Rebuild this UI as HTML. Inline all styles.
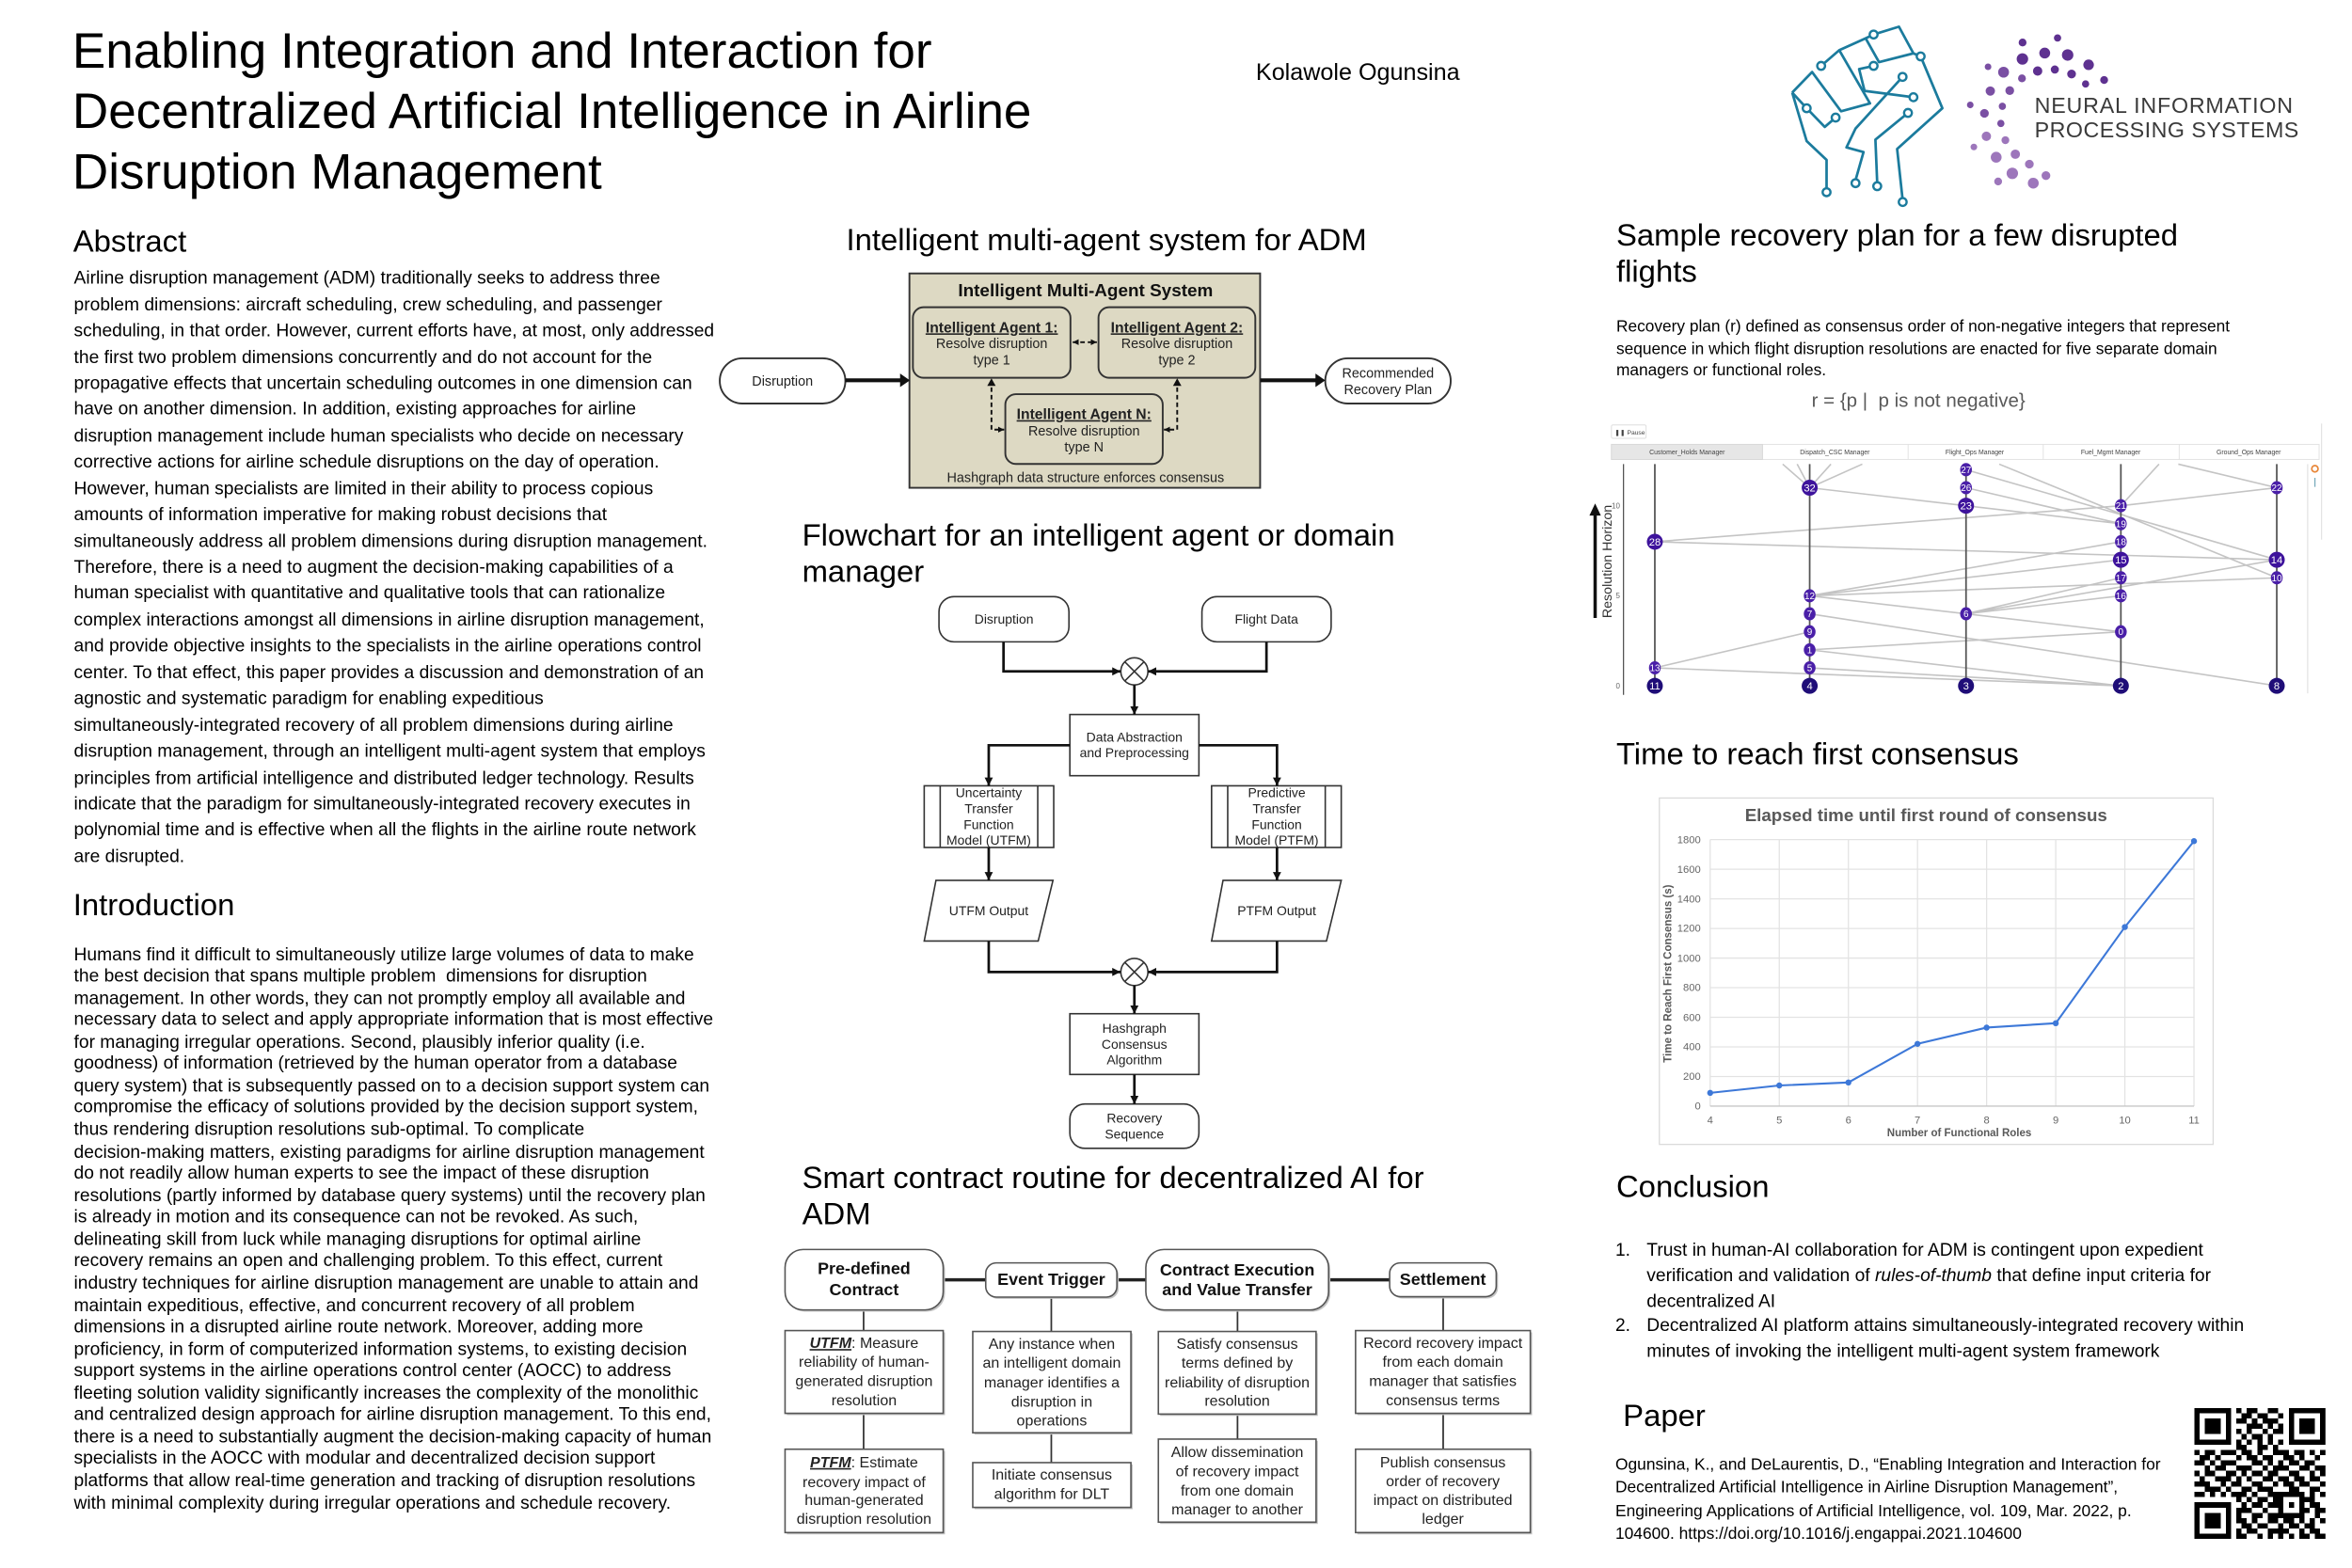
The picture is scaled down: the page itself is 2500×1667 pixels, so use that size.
<!DOCTYPE html>
<html><head><meta charset="utf-8">
<style>
html,body{margin:0;padding:0;background:#fff;}
body{width:2500px;height:1666px;overflow:hidden;position:relative;}
#p{position:absolute;left:0;top:0;width:1560px;height:1040px;transform:scale(1.602564);transform-origin:0 0;font-family:"Liberation Sans",Arial,sans-serif;color:#000;}
.t{position:absolute;white-space:nowrap;line-height:1;}
.h{font-size:20.5px;}
.bd{position:absolute;white-space:nowrap;font-size:12px;}
svg{position:absolute;left:0;top:0;font-family:"Liberation Sans",Arial,sans-serif;}
</style></head><body><div id="p">
<svg width="1560" height="1040" viewBox="0 0 1560 1040">
<defs>
<marker id="ah" viewBox="0 0 6 6" refX="6" refY="3" markerWidth="5.5" markerHeight="5.5" markerUnits="userSpaceOnUse" orient="auto"><path d="M0,0 L6,3 L0,6 z" fill="#111"/></marker>
<marker id="ahs" viewBox="0 0 6 6" refX="6" refY="3" markerWidth="4" markerHeight="4" markerUnits="userSpaceOnUse" orient="auto"><path d="M0,0 L6,3 L0,6 z" fill="#111"/></marker>
<marker id="ahsr" viewBox="0 0 6 6" refX="0" refY="3" markerWidth="4" markerHeight="4" markerUnits="userSpaceOnUse" orient="auto"><path d="M6,0 L0,3 L6,6 z" fill="#111"/></marker>
</defs>

<!-- Fist logo -->
<g fill="none" stroke="#1b7b9d" stroke-width="1.7" stroke-linejoin="round">
<polyline points="1207.9,43.7 1219.9,33.3 1237.4,25.4 1242.7,22.9"/>
<polyline points="1242.7,22.9 1259.5,17.7 1269.1,35.4 1246.3,41.2 1237.4,25.4"/>
<polyline points="1219.9,33.3 1240.3,68.6 1221.1,73.8 1201.9,47.8 1188.7,61.4"/>
<polyline points="1188.7,61.4 1198.3,71.8"/>
<polyline points="1198.3,71.8 1210.3,84.2 1217.5,78"/>
<polyline points="1242.7,43.7 1233.1,45.8 1236.7,60.3 1269.1,64.5"/>
<polyline points="1261.9,51 1230.7,85.3 1224.7,97.8 1236,100.9 1230.7,119.6"/>
<polyline points="1188.7,61.4 1198.3,93.6 1211.5,106.1 1211.5,125.8"/>
<polyline points="1265.5,74.9 1243.9,92.6 1245.1,121.7"/>
<polyline points="1269.1,35.4 1273.9,37.4 1288.3,71.8 1258.3,98.8 1261.9,132.1"/>
</g>
<g fill="#fff" stroke="#1b7b9d" stroke-width="1.5">
<circle cx="1207.9" cy="43.7" r="2.6"/><circle cx="1242.7" cy="22.9" r="2.6"/><circle cx="1273.9" cy="37.4" r="2.6"/>
<circle cx="1242.7" cy="43.7" r="2.6"/><circle cx="1261.9" cy="51" r="2.6"/><circle cx="1269.1" cy="64.5" r="2.6"/>
<circle cx="1265.5" cy="74.9" r="2.6"/><circle cx="1198.3" cy="71.8" r="2.6"/><circle cx="1217.5" cy="78" r="2.6"/>
<circle cx="1230.7" cy="121.5" r="2.6"/><circle cx="1211.5" cy="127.5" r="2.6"/><circle cx="1245.1" cy="123.5" r="2.6"/>
<circle cx="1262" cy="134" r="2.6"/>
</g>

<!-- NeurIPS dots -->
<g fill="#5e3190">
<circle cx="1395.6" cy="53.1" r="2.6"/><circle cx="1385.3" cy="43" r="3.5"/><circle cx="1371.4" cy="36.5" r="3.8"/>
<circle cx="1356.2" cy="35.2" r="3.6"/><circle cx="1341.4" cy="39.1" r="3.8"/><circle cx="1383.3" cy="55.7" r="2.4"/>
<circle cx="1374" cy="49.1" r="2.9"/><circle cx="1362.9" cy="46.1" r="2.7"/><circle cx="1351.5" cy="47.1" r="3.1"/>
<circle cx="1364.7" cy="25.2" r="2.4"/><circle cx="1341.5" cy="28.2" r="2.6"/>
</g>
<g fill="#7a4fa3">
<circle cx="1328.9" cy="47.9" r="3.6"/><circle cx="1320.1" cy="60.4" r="3.1"/><circle cx="1316.2" cy="75.2" r="2.9"/>
<circle cx="1341.1" cy="52" r="2.6"/><circle cx="1333" cy="60.1" r="2.9"/><circle cx="1328.1" cy="70.5" r="2.4"/>
<circle cx="1318.6" cy="44.3" r="2.2"/><circle cx="1306.8" cy="69.6" r="2.2"/><circle cx="1327.1" cy="81.9" r="2.4"/>
</g>
<g fill="#9d76bb">
<circle cx="1317.5" cy="90.4" r="3.1"/><circle cx="1324" cy="104.3" r="3.6"/><circle cx="1334.7" cy="115" r="3.8"/>
<circle cx="1348.6" cy="121.5" r="3.6"/><circle cx="1330.1" cy="93" r="2.6"/><circle cx="1336.7" cy="102.3" r="3.1"/>
<circle cx="1346" cy="108.9" r="2.9"/><circle cx="1309.2" cy="97.5" r="2.2"/><circle cx="1325.3" cy="120.4" r="2.6"/>
<circle cx="1357" cy="116.5" r="2.9"/>
</g>

<!-- ===== Diagram 1: Intelligent multi-agent system ===== -->
<rect x="603.2" y="181.4" width="232.6" height="142.2" fill="#ddd9c3" stroke="#333" stroke-width="1.2"/>
<text x="720" y="196.6" font-size="11.8" font-weight="bold" text-anchor="middle" fill="#111">Intelligent Multi-Agent System</text>
<g fill="#ddd9c3" stroke="#333" stroke-width="1.2">
<rect x="605.5" y="203.8" width="104.5" height="46.8" rx="7"/>
<rect x="728.6" y="203.8" width="104" height="46.8" rx="7"/>
<rect x="666.8" y="261.5" width="104.4" height="46.3" rx="7"/>
</g>
<g font-size="9" text-anchor="middle" fill="#222">
<text x="657.8" y="220.5" font-weight="bold" font-size="9.8" text-decoration="underline">Intelligent Agent 1:</text>
<text x="657.8" y="230.9">Resolve disruption</text>
<text x="657.8" y="241.7">type 1</text>
<text x="780.6" y="220.5" font-weight="bold" font-size="9.8" text-decoration="underline">Intelligent Agent 2:</text>
<text x="780.6" y="230.9">Resolve disruption</text>
<text x="780.6" y="241.7">type 2</text>
<text x="719" y="278.1" font-weight="bold" font-size="9.8" text-decoration="underline">Intelligent Agent N:</text>
<text x="719" y="288.9">Resolve disruption</text>
<text x="719" y="299.5">type N</text>
<text x="720" y="319.9">Hashgraph data structure enforces consensus</text>
</g>
<g stroke="#111" stroke-width="1.2" stroke-dasharray="3,2" fill="none">
<line x1="711.5" y1="227" x2="727.5" y2="227" marker-end="url(#ahs)" marker-start="url(#ahsr)"/>
<polyline points="657.6,252 657.6,285 666,285" marker-end="url(#ahs)"/>
<polyline points="780.8,252 780.8,285 772,285" marker-end="url(#ahs)"/>
</g>
<path d="M654.8,256 L657.6,251 L660.4,256 z" fill="#111"/>
<path d="M778,256 L780.8,251 L783.6,256 z" fill="#111"/>
<rect x="477.4" y="237.7" width="83.3" height="30" rx="15" fill="#fff" stroke="#333" stroke-width="1.2"/>
<rect x="879" y="237.7" width="83.2" height="30" rx="15" fill="#fff" stroke="#333" stroke-width="1.2"/>
<g font-size="9" text-anchor="middle" fill="#222">
<text x="519" y="255.8">Disruption</text>
<text x="920.6" y="250.6">Recommended</text>
<text x="920.6" y="261.5">Recovery Plan</text>
</g>
<line x1="560.7" y1="252.3" x2="598" y2="252.3" stroke="#111" stroke-width="2.6"/>
<path d="M597,247.8 L603.5,252.3 L597,256.8 z" fill="#111"/>
<line x1="836" y1="252.3" x2="873" y2="252.3" stroke="#111" stroke-width="2.6"/>
<path d="M872.5,247.8 L879,252.3 L872.5,256.8 z" fill="#111"/>

<!-- ===== Flowchart ===== -->
<g fill="#fff" stroke="#333" stroke-width="1">
<rect x="622.8" y="395.8" width="86.2" height="30" rx="10"/>
<rect x="797.2" y="395.8" width="85.7" height="30" rx="10"/>
<rect x="709.6" y="474" width="85.6" height="40.6"/>
<rect x="613" y="521.3" width="85.9" height="40.9"/>
<rect x="803.6" y="521.3" width="86" height="40.9"/>
<polygon points="620.8,584 698.4,584 688.6,624.3 613,624.3"/>
<polygon points="811.2,584 889.6,584 879.8,624.3 803.6,624.3"/>
<rect x="709.6" y="672.5" width="85.6" height="40.3"/>
<rect x="709.6" y="732.4" width="85.6" height="29.4" rx="10"/>
<circle cx="752.4" cy="445.4" r="9"/>
<circle cx="752.4" cy="644.8" r="9"/>
</g>
<g stroke="#333" stroke-width="1">
<line x1="623.6" y1="521.3" x2="623.6" y2="562.2"/><line x1="688.3" y1="521.3" x2="688.3" y2="562.2"/>
<line x1="814.3" y1="521.3" x2="814.3" y2="562.2"/><line x1="879" y1="521.3" x2="879" y2="562.2"/>
<line x1="746" y1="439" x2="758.8" y2="451.8"/><line x1="758.8" y1="439" x2="746" y2="451.8"/>
<line x1="746" y1="638.4" x2="758.8" y2="651.2"/><line x1="758.8" y1="638.4" x2="746" y2="651.2"/>
</g>
<g stroke="#111" stroke-width="1.7" fill="none" marker-end="url(#ah)">
<polyline points="665.6,425.8 665.6,445.4 743.2,445.4"/>
<polyline points="840,425.8 840,445.4 761.4,445.4"/>
<polyline points="752.4,454.4 752.4,474"/>
<polyline points="709.6,494.4 655.8,494.4 655.8,521.3"/>
<polyline points="795.2,494.4 847,494.4 847,521.3"/>
<polyline points="655.8,562.2 655.8,584"/>
<polyline points="847,562.2 847,584"/>
<polyline points="655.8,624.3 655.8,644.8 743.2,644.8"/>
<polyline points="847,624.3 847,644.8 761.4,644.8"/>
<polyline points="752.4,653.8 752.4,672.5"/>
<polyline points="752.4,712.8 752.4,732.4"/>
</g>
<g font-size="8.7" text-anchor="middle" fill="#222">
<text x="665.9" y="413.6">Disruption</text>
<text x="840" y="413.6">Flight Data</text>
<text x="752.4" y="492">Data Abstraction</text>
<text x="752.4" y="502.3">and Preprocessing</text>
<text x="655.8" y="528.9">Uncertainty</text>
<text x="655.8" y="539.3">Transfer</text>
<text x="655.8" y="549.9">Function</text>
<text x="655.8" y="560.3">Model (UTFM)</text>
<text x="846.8" y="528.9">Predictive</text>
<text x="846.8" y="539.3">Transfer</text>
<text x="846.8" y="549.9">Function</text>
<text x="846.8" y="560.3">Model (PTFM)</text>
<text x="655.8" y="607">UTFM Output</text>
<text x="846.8" y="607">PTFM Output</text>
<text x="752.4" y="685.2">Hashgraph</text>
<text x="752.4" y="695.8">Consensus</text>
<text x="752.4" y="706.2">Algorithm</text>
<text x="752.4" y="744.8">Recovery</text>
<text x="752.4" y="755.2">Sequence</text>
</g>

<!-- ===== Smart contract ===== -->
<g stroke="#222" stroke-width="2.2">
<line x1="625.6" y1="849" x2="653.8" y2="849"/>
<line x1="740.8" y1="849" x2="760" y2="849"/>
<line x1="881.2" y1="849" x2="921.7" y2="849"/>
</g>
<g stroke="#333" stroke-width="1.1">
<line x1="572.8" y1="869" x2="572.8" y2="882.7"/><line x1="572.8" y1="937.6" x2="572.8" y2="961.4"/>
<line x1="697.3" y1="860.5" x2="697.3" y2="883.3"/><line x1="697.3" y1="950.5" x2="697.3" y2="970.3"/>
<line x1="820.8" y1="869" x2="820.8" y2="883.3"/><line x1="820.8" y1="938.1" x2="820.8" y2="954.7"/>
<line x1="957.2" y1="860.2" x2="957.2" y2="882.7"/><line x1="957.2" y1="937.6" x2="957.2" y2="961.4"/>
</g>
<g fill="#c4c4c4">
<rect x="521.9" y="830.1" width="104.9" height="40.1" rx="12"/>
<rect x="655" y="839" width="87" height="22.7" rx="7"/>
<rect x="761.2" y="830.1" width="121.2" height="40.1" rx="12"/>
<rect x="922.9" y="839" width="70.7" height="22.4" rx="7"/>
<rect x="521.9" y="883.9" width="104.9" height="54.9"/>
<rect x="521.9" y="962.6" width="104.9" height="55.3"/>
<rect x="646.4" y="884.5" width="104.9" height="67.2"/>
<rect x="646.4" y="971.5" width="104.9" height="29.7"/>
<rect x="769.5" y="884.5" width="104.6" height="54.8"/>
<rect x="769.5" y="955.9" width="104.6" height="55.1"/>
<rect x="900.3" y="883.9" width="115.9" height="54.9"/>
<rect x="900.3" y="962.6" width="115.9" height="55.3"/>
</g>
<g fill="#fff" stroke="#555" stroke-width="1">
<rect x="520.7" y="828.9" width="104.9" height="40.1" rx="12"/>
<rect x="653.8" y="837.8" width="87" height="22.7" rx="7"/>
<rect x="760" y="828.9" width="121.2" height="40.1" rx="12"/>
<rect x="921.7" y="837.8" width="70.7" height="22.4" rx="7"/>
<rect x="520.7" y="882.7" width="104.9" height="54.9"/>
<rect x="520.7" y="961.4" width="104.9" height="55.3"/>
<rect x="645.2" y="883.3" width="104.9" height="67.2"/>
<rect x="645.2" y="970.3" width="104.9" height="29.7"/>
<rect x="768.3" y="883.3" width="104.6" height="54.8"/>
<rect x="768.3" y="954.7" width="104.6" height="55.1"/>
<rect x="899.1" y="882.7" width="115.9" height="54.9"/>
<rect x="899.1" y="961.4" width="115.9" height="55.3"/>
</g>
<g font-size="11.2" font-weight="bold" text-anchor="middle" fill="#111">
<text x="573.1" y="845.3">Pre-defined</text>
<text x="573.1" y="859.2">Contract</text>
<text x="697.3" y="852.3">Event Trigger</text>
<text x="820.6" y="846.1">Contract Execution</text>
<text x="820.6" y="859.2">and Value Transfer</text>
<text x="957" y="852.3">Settlement</text>
</g>
<g font-size="10" text-anchor="middle" fill="#222">
<text x="573.1" y="894.3"><tspan font-weight="bold" font-style="italic" text-decoration="underline">UTFM</tspan>: Measure</text>
<text x="573.1" y="906.8">reliability of human-</text>
<text x="573.1" y="919.6">generated disruption</text>
<text x="573.1" y="932.3">resolution</text>
<text x="573.1" y="973.3"><tspan font-weight="bold" font-style="italic" text-decoration="underline">PTFM</tspan>: Estimate</text>
<text x="573.1" y="986.4">recovery impact of</text>
<text x="573.1" y="998.5">human-generated</text>
<text x="573.1" y="1011">disruption resolution</text>
<text x="697.6" y="894.9">Any instance when</text>
<text x="697.6" y="907.4">an intelligent domain</text>
<text x="697.6" y="920.3">manager identifies a</text>
<text x="697.6" y="933.2">disruption in</text>
<text x="697.6" y="945.6">operations</text>
<text x="697.6" y="981.6">Initiate consensus</text>
<text x="697.6" y="994.3">algorithm for DLT</text>
<text x="820.6" y="894.9">Satisfy consensus</text>
<text x="820.6" y="907.4">terms defined by</text>
<text x="820.6" y="920.3">reliability of disruption</text>
<text x="820.6" y="932.7">resolution</text>
<text x="820.6" y="966.6">Allow dissemination</text>
<text x="820.6" y="979.5">of recovery impact</text>
<text x="820.6" y="992.2">from one domain</text>
<text x="820.6" y="1004.5">manager to another</text>
<text x="957" y="894.3">Record recovery impact</text>
<text x="957" y="906.8">from each domain</text>
<text x="957" y="919.6">manager that satisfies</text>
<text x="957" y="932.3">consensus terms</text>
<text x="957" y="973.3">Publish consensus</text>
<text x="957" y="986">order of recovery</text>
<text x="957" y="998.5">impact on distributed</text>
<text x="957" y="1011">ledger</text>
</g>

<!-- ===== Chart 1: recovery plan ===== -->
<rect x="1068.8" y="281.9" width="23" height="8.9" rx="1" fill="#fff" stroke="#ddd" stroke-width="0.6"/>
<text x="1071" y="288.2" font-size="4.2" fill="#444">❚❚ Pause</text>
<rect x="1068.8" y="294.8" width="469.4" height="10" fill="#fff" stroke="#e2e2e2" stroke-width="0.6"/>
<rect x="1068.8" y="294.8" width="100.2" height="10" fill="#e6e6e6" stroke="#d8d8d8" stroke-width="0.6"/>
<g stroke="#e2e2e2" stroke-width="0.6">
<line x1="1265.6" y1="294.8" x2="1265.6" y2="304.8"/><line x1="1355.2" y1="294.8" x2="1355.2" y2="304.8"/><line x1="1445.4" y1="294.8" x2="1445.4" y2="304.8"/>
</g>
<g font-size="4.3" fill="#444" text-anchor="middle">
<text x="1119" y="301.3">Customer_Holds Manager</text>
<text x="1217" y="301.3">Dispatch_CSC Manager</text>
<text x="1309.8" y="301.3">Flight_Ops Manager</text>
<text x="1400" y="301.3">Fuel_Mgmt Manager</text>
<text x="1491.5" y="301.3">Ground_Ops Manager</text>
</g>
<line x1="1530.6" y1="307.9" x2="1530.6" y2="460" stroke="#e4e4e4" stroke-width="0.8"/>
<line x1="1539.8" y1="281" x2="1539.8" y2="358" stroke="#e4e4e4" stroke-width="0.8"/>
<circle cx="1535.4" cy="311" r="2.1" fill="none" stroke="#e8873a" stroke-width="1.1"/>
<line x1="1535.4" y1="317" x2="1535.4" y2="323" stroke="#7ab" stroke-width="0.8"/>
<line x1="1076.8" y1="307.9" x2="1076.8" y2="461" stroke="#555" stroke-width="0.8"/>
<g font-size="5" fill="#666" text-anchor="end">
<text x="1074.5" y="337.2">10</text><text x="1074.5" y="397">5</text><text x="1074.5" y="456.7">0</text>
</g>
<text transform="translate(1068.8,372.5) rotate(-90)" font-size="8.9" fill="#333" text-anchor="middle">Resolution  Horizon</text>
<line x1="1058" y1="410" x2="1058" y2="341" stroke="#111" stroke-width="2.2"/>
<path d="M1054.2,342 L1058,334 L1061.8,342 z" fill="#111"/>
<g stroke="#c4c4c4" stroke-width="1" fill="none">
<path d="M1097.6 359.4L1406.7 335.5M1097.6 359.4L1510.1 371.35M1097.6 443.05L1200.3 419.15M1097.6 443.05L1406.7 455M1200.3 395.25L1406.7 359.4M1200.3 395.25L1406.7 371.35M1200.3 395.25L1510.1 383.3M1200.3 395.25L1304 407.2M1304 407.2L1406.7 419.15M1304 407.2L1406.7 383.3M1304 407.2L1406.7 395.25M1304 407.2L1510.1 371.35M1200.3 407.2L1510.1 455M1200.3 431.1L1406.7 419.15M1200.3 431.1L1406.7 455M1200.3 443.05L1406.7 455M1200.3 323.55L1304 335.5M1304 335.5L1406.7 347.45M1406.7 335.5L1510.1 323.55M1304 311.6L1510.1 371.35M1304 323.55L1406.7 347.45M1326 307.9L1510.1 383.3M1432 307.9L1406.7 335.5M1444.8 307.9L1510.1 323.55M1182.4 307.9L1200.3 323.55M1192 307.9L1200.3 323.55M1214.4 307.9L1200.3 323.55M1235.2 307.9L1200.3 323.55"/>
</g>
<g stroke="#555" stroke-width="1.1">
<line x1="1097.6" y1="307.9" x2="1097.6" y2="459.7"/><line x1="1200.3" y1="307.9" x2="1200.3" y2="459.7"/>
<line x1="1304" y1="307.9" x2="1304" y2="459.7"/><line x1="1406.7" y1="307.9" x2="1406.7" y2="459.7"/>
<line x1="1510.1" y1="307.9" x2="1510.1" y2="459.7"/>
</g>
<g fill="#3e139c">
<circle cx="1097.6" cy="359.4" r="5.3"/><circle cx="1200.3" cy="323.55" r="5.3"/><circle cx="1304" cy="335.5" r="5.3"/>
<circle cx="1406.7" cy="371.35" r="5.3"/><circle cx="1510.1" cy="371.35" r="5.3"/>
</g>
<g fill="#1f0d78">
<circle cx="1097.6" cy="455" r="5.3"/><circle cx="1200.3" cy="455" r="5.3"/><circle cx="1304" cy="455" r="5.3"/>
<circle cx="1406.7" cy="455" r="5.3"/><circle cx="1510.1" cy="455" r="5.3"/>
</g>
<g fill="#4a1fa8">
<ellipse cx="1097.6" cy="443.05" rx="3.9" ry="4.4"/>
<ellipse cx="1200.3" cy="395.25" rx="3.9" ry="4.4"/><ellipse cx="1200.3" cy="407.2" rx="3.9" ry="4.4"/>
<ellipse cx="1200.3" cy="419.15" rx="3.9" ry="4.4"/><ellipse cx="1200.3" cy="431.1" rx="3.9" ry="4.4"/>
<ellipse cx="1200.3" cy="443.05" rx="3.9" ry="4.4"/>
<ellipse cx="1304" cy="311.6" rx="3.9" ry="4.4"/><ellipse cx="1304" cy="323.55" rx="3.9" ry="4.4"/>
<ellipse cx="1304" cy="407.2" rx="3.9" ry="4.4"/>
<ellipse cx="1406.7" cy="335.5" rx="3.9" ry="4.4"/><ellipse cx="1406.7" cy="347.45" rx="3.9" ry="4.4"/>
<ellipse cx="1406.7" cy="359.4" rx="3.9" ry="4.4"/><ellipse cx="1406.7" cy="383.3" rx="3.9" ry="4.4"/>
<ellipse cx="1406.7" cy="395.25" rx="3.9" ry="4.4"/><ellipse cx="1406.7" cy="419.15" rx="3.9" ry="4.4"/>
<ellipse cx="1510.1" cy="323.55" rx="3.9" ry="4.4"/><ellipse cx="1510.1" cy="383.3" rx="3.9" ry="4.4"/>
</g>
<g fill="#fff" font-size="7" text-anchor="middle">
<text x="1097.6" y="361.9">28</text><text x="1097.6" y="457.5">11</text><text x="1200.3" y="326">32</text>
<text x="1200.3" y="457.5">4</text><text x="1304" y="338">23</text><text x="1304" y="457.5">3</text>
<text x="1406.7" y="373.85">15</text><text x="1406.7" y="457.5">2</text><text x="1510.1" y="373.85">14</text>
<text x="1510.1" y="457.5">8</text>
</g>
<g fill="#fff" font-size="6.2" text-anchor="middle">
<text x="1097.6" y="445.2">13</text>
<text x="1200.3" y="397.4">12</text><text x="1200.3" y="409.4">7</text><text x="1200.3" y="421.3">9</text>
<text x="1200.3" y="433.3">1</text><text x="1200.3" y="445.2">5</text>
<text x="1304" y="313.8">27</text><text x="1304" y="325.7">26</text><text x="1304" y="409.4">6</text>
<text x="1406.7" y="337.7">21</text><text x="1406.7" y="349.6">19</text><text x="1406.7" y="361.6">18</text>
<text x="1406.7" y="385.5">17</text><text x="1406.7" y="397.4">16</text><text x="1406.7" y="421.3">0</text>
<text x="1510.1" y="325.7">22</text><text x="1510.1" y="385.5">10</text>
</g>

<!-- ===== Chart 2: time ===== -->
<rect x="1100.6" y="529.4" width="367.3" height="229.8" fill="#fff" stroke="#dadada" stroke-width="0.8"/>
<text x="1277.5" y="544.7" font-size="11.7" font-weight="bold" fill="#595959" text-anchor="middle">Elapsed time until first round of consensus</text>
<g stroke="#e3e3e3" stroke-width="0.8">
<line x1="1134.3" y1="557" x2="1134.3" y2="733.8"/><line x1="1180.14" y1="557" x2="1180.14" y2="733.8"/>
<line x1="1225.98" y1="557" x2="1225.98" y2="733.8"/><line x1="1271.82" y1="557" x2="1271.82" y2="733.8"/>
<line x1="1317.66" y1="557" x2="1317.66" y2="733.8"/><line x1="1363.5" y1="557" x2="1363.5" y2="733.8"/>
<line x1="1409.34" y1="557" x2="1409.34" y2="733.8"/><line x1="1455.2" y1="557" x2="1455.2" y2="733.8"/>
<line x1="1134.3" y1="714.16" x2="1455.2" y2="714.16"/><line x1="1134.3" y1="694.51" x2="1455.2" y2="694.51"/>
<line x1="1134.3" y1="674.87" x2="1455.2" y2="674.87"/><line x1="1134.3" y1="655.22" x2="1455.2" y2="655.22"/>
<line x1="1134.3" y1="635.58" x2="1455.2" y2="635.58"/><line x1="1134.3" y1="615.94" x2="1455.2" y2="615.94"/>
<line x1="1134.3" y1="596.29" x2="1455.2" y2="596.29"/><line x1="1134.3" y1="576.65" x2="1455.2" y2="576.65"/>
<line x1="1134.3" y1="557" x2="1455.2" y2="557"/>
</g>
<line x1="1134.3" y1="733.8" x2="1455.2" y2="733.8" stroke="#c8c8c8" stroke-width="0.9"/>
<g font-size="7" fill="#666" text-anchor="end">
<text x="1128" y="736.1">0</text><text x="1128" y="716.5">200</text><text x="1128" y="696.8">400</text>
<text x="1128" y="677.2">600</text><text x="1128" y="657.5">800</text><text x="1128" y="637.9">1000</text>
<text x="1128" y="618.2">1200</text><text x="1128" y="598.6">1400</text><text x="1128" y="579">1600</text>
<text x="1128" y="559.3">1800</text>
</g>
<g font-size="7" fill="#666" text-anchor="middle">
<text x="1134.3" y="745.4">4</text><text x="1180.14" y="745.4">5</text><text x="1225.98" y="745.4">6</text>
<text x="1271.82" y="745.4">7</text><text x="1317.66" y="745.4">8</text><text x="1363.5" y="745.4">9</text>
<text x="1409.34" y="745.4">10</text><text x="1455.2" y="745.4">11</text>
</g>
<text x="1299.5" y="753.8" font-size="7.2" font-weight="bold" fill="#595959" text-anchor="middle">Number of Functional Roles</text>
<text transform="translate(1108.6,645.9) rotate(-90)" font-size="7.2" font-weight="bold" fill="#595959" text-anchor="middle">Time to Reach First Consensus (s)</text>
<polyline points="1134.3,725 1180.14,720.1 1225.98,718.1 1271.82,692.5 1317.66,681.7 1363.5,678.8 1409.34,615 1455.2,558" fill="none" stroke="#3d78d8" stroke-width="1.3"/>
<g fill="#3d78d8">
<circle cx="1134.3" cy="725" r="2"/><circle cx="1180.14" cy="720.1" r="2"/><circle cx="1225.98" cy="718.1" r="2"/>
<circle cx="1271.82" cy="692.5" r="2"/><circle cx="1317.66" cy="681.7" r="2"/><circle cx="1363.5" cy="678.8" r="2"/>
<circle cx="1409.34" cy="615" r="2"/><circle cx="1455.2" cy="558" r="2"/>
</g>

<!-- QR code -->
<svg x="1455.4" y="934" width="87" height="87" viewBox="0 0 25 25" shape-rendering="crispEdges">
<path fill="#000" d="M0 0h7v1h-7zM8 0h1v1h-1zM10 0h2v1h-2zM14 0h2v1h-2zM18 0h7v1h-7z
M0 1h1v1h-1zM6 1h1v1h-1zM9 1h2v1h-2zM12 1h2v1h-2zM16 1h1v1h-1zM18 1h1v1h-1zM24 1h1v1h-1z
M0 2h1v1h-1zM2 2h3v1h-3zM6 2h1v1h-1zM8 2h2v1h-2zM11 2h1v1h-1zM13 2h3v1h-3zM18 2h1v1h-1zM20 2h3v1h-3zM24 2h1v1h-1z
M0 3h1v1h-1zM2 3h3v1h-3zM6 3h1v1h-1zM10 3h3v1h-3zM14 3h1v1h-1zM16 3h1v1h-1zM18 3h1v1h-1zM20 3h3v1h-3zM24 3h1v1h-1z
M0 4h1v1h-1zM2 4h3v1h-3zM6 4h1v1h-1zM8 4h1v1h-1zM10 4h1v1h-1zM13 4h1v1h-1zM15 4h2v1h-2zM18 4h1v1h-1zM20 4h3v1h-3zM24 4h1v1h-1z
M0 5h1v1h-1zM6 5h1v1h-1zM9 5h1v1h-1zM11 5h2v1h-2zM14 5h1v1h-1zM18 5h1v1h-1zM24 5h1v1h-1z
M0 6h7v1h-7zM8 6h1v1h-1zM10 6h1v1h-1zM12 6h1v1h-1zM14 6h1v1h-1zM16 6h1v1h-1zM18 6h7v1h-7z
M8 7h2v1h-2zM12 7h2v1h-2zM15 7h1v1h-1z
M0 8h1v1h-1zM2 8h2v1h-2zM5 8h3v1h-3zM9 8h2v1h-2zM12 8h1v1h-1zM15 8h3v1h-3zM19 8h2v1h-2zM22 8h1v1h-1zM24 8h1v1h-1z
M1 9h2v1h-2zM4 9h1v1h-1zM8 9h1v1h-1zM10 9h2v1h-2zM13 9h2v1h-2zM17 9h2v1h-2zM20 9h1v1h-1zM23 9h1v1h-1z
M0 10h2v1h-2zM3 10h1v1h-1zM5 10h3v1h-3zM11 10h2v1h-2zM14 10h1v1h-1zM16 10h1v1h-1zM18 10h2v1h-2zM21 10h2v1h-2z
M2 11h1v1h-1zM4 11h2v1h-2zM8 11h3v1h-3zM13 11h1v1h-1zM15 11h3v1h-3zM20 11h2v1h-2zM23 11h2v1h-2z
M0 12h1v1h-1zM2 12h2v1h-2zM6 12h2v1h-2zM9 12h1v1h-1zM11 12h2v1h-2zM14 12h2v1h-2zM18 12h2v1h-2zM22 12h1v1h-1zM24 12h1v1h-1z
M1 13h1v1h-1zM4 13h3v1h-3zM8 13h1v1h-1zM10 13h1v1h-1zM13 13h2v1h-2zM16 13h2v1h-2zM19 13h2v1h-2zM22 13h2v1h-2z
M0 14h3v1h-3zM5 14h1v1h-1zM7 14h2v1h-2zM11 14h2v1h-2zM15 14h1v1h-1zM17 14h2v1h-2zM20 14h2v1h-2zM24 14h1v1h-1z
M2 15h3v1h-3zM6 15h1v1h-1zM9 15h2v1h-2zM12 15h3v1h-3zM18 15h2v1h-2zM22 15h2v1h-2z
M0 16h2v1h-2zM3 16h1v1h-1zM5 16h1v1h-1zM7 16h3v1h-3zM11 16h1v1h-1zM14 16h7v1h-7zM22 16h1v1h-1zM24 16h1v1h-1z
M8 17h1v1h-1zM10 17h1v1h-1zM12 17h2v1h-2zM15 17h2v1h-2zM20 17h3v1h-3z
M0 18h7v1h-7zM9 18h1v1h-1zM11 18h2v1h-2zM14 18h3v1h-3zM18 18h1v1h-1zM20 18h1v1h-1zM22 18h2v1h-2z
M0 19h1v1h-1zM6 19h1v1h-1zM8 19h3v1h-3zM13 19h1v1h-1zM16 19h1v1h-1zM20 19h2v1h-2zM23 19h2v1h-2z
M0 20h1v1h-1zM2 20h3v1h-3zM6 20h1v1h-1zM8 20h1v1h-1zM11 20h2v1h-2zM14 20h7v1h-7zM23 20h1v1h-1z
M0 21h1v1h-1zM2 21h3v1h-3zM6 21h1v1h-1zM8 21h2v1h-2zM11 21h1v1h-1zM14 21h2v1h-2zM17 21h2v1h-2zM20 21h1v1h-1zM22 21h1v1h-1zM24 21h1v1h-1z
M0 22h1v1h-1zM2 22h3v1h-3zM6 22h1v1h-1zM9 22h2v1h-2zM12 22h2v1h-2zM16 22h1v1h-1zM18 22h2v1h-2zM21 22h2v1h-2z
M0 23h1v1h-1zM6 23h1v1h-1zM8 23h1v1h-1zM10 23h2v1h-2zM14 23h4v1h-4zM20 23h1v1h-1zM22 23h2v1h-2z
M0 24h7v1h-7zM8 24h2v1h-2zM12 24h1v1h-1zM14 24h1v1h-1zM16 24h1v1h-1zM18 24h1v1h-1zM20 24h2v1h-2zM23 24h2v1h-2z"/>
</svg>
</svg>

<!-- Title & author -->
<div class="t" style="left:48px;top:18.2px;font-size:33.1px;">Enabling Integration and Interaction for</div>
<div class="t" style="left:48px;top:57.9px;font-size:33.1px;">Decentralized Artificial Intelligence in Airline</div>
<div class="t" style="left:48px;top:97.9px;font-size:33.1px;">Disruption Management</div>
<div class="t" style="left:833px;top:41.2px;font-size:15.7px;">Kolawole Ogunsina</div>
<div class="t" style="left:1349.5px;top:64.2px;font-size:14.5px;color:#3a3a3a;letter-spacing:0.5px;">NEURAL INFORMATION</div>
<div class="t" style="left:1349.5px;top:80.3px;font-size:14.5px;color:#3a3a3a;letter-spacing:0.3px;">PROCESSING SYSTEMS</div>

<!-- Left column -->
<div class="t h" style="left:48.5px;top:150.8px;">Abstract</div>
<div class="bd" style="left:49px;top:176.2px;line-height:17.44px;">Airline disruption management (ADM) traditionally seeks to address three<br>problem dimensions: aircraft scheduling, crew scheduling, and passenger<br>scheduling, in that order. However, current efforts have, at most, only addressed<br>the first two problem dimensions concurrently and do not account for the<br>propagative effects that uncertain scheduling outcomes in one dimension can<br>have on another dimension. In addition, existing approaches for airline<br>disruption management include human specialists who decide on necessary<br>corrective actions for airline schedule disruptions on the day of operation.<br>However, human specialists are limited in their ability to process copious<br>amounts of information imperative for making robust decisions that<br>simultaneously address all problem dimensions during disruption management.<br>Therefore, there is a need to augment the decision-making capabilities of a<br>human specialist with quantitative and qualitative tools that can rationalize<br>complex interactions amongst all dimensions in airline disruption management,<br>and provide objective insights to the specialists in the airline operations control<br>center. To that effect, this paper provides a discussion and demonstration of an<br>agnostic and systematic paradigm for enabling expeditious<br>simultaneously-integrated recovery of all problem dimensions during airline<br>disruption management, through an intelligent multi-agent system that employs<br>principles from artificial intelligence and distributed ledger technology. Results<br>indicate that the paradigm for simultaneously-integrated recovery executes in<br>polynomial time and is effective when all the flights in the airline route network<br>are disrupted.</div>

<div class="t h" style="left:48.5px;top:591px;">Introduction</div>
<div class="bd" style="left:49px;top:625.5px;line-height:14.56px;">Humans find it difficult to simultaneously utilize large volumes of data to make<br>the best decision that spans multiple problem&nbsp; dimensions for disruption<br>management. In other words, they can not promptly employ all available and<br>necessary data to select and apply appropriate information that is most effective<br>for managing irregular operations. Second, plausibly inferior quality (i.e.<br>goodness) of information (retrieved by the human operator from a database<br>query system) that is subsequently passed on to a decision support system can<br>compromise the efficacy of solutions provided by the decision support system,<br>thus rendering disruption resolutions sub-optimal. To complicate<br>decision-making matters, existing paradigms for airline disruption management<br>do not readily allow human experts to see the impact of these disruption<br>resolutions (partly informed by database query systems) until the recovery plan<br>is already in motion and its consequence can not be revoked. As such,<br>delineating skill from luck while managing disruptions for optimal airline<br>recovery remains an open and challenging problem. To this effect, current<br>industry techniques for airline disruption management are unable to attain and<br>maintain expeditious, effective, and concurrent recovery of all problem<br>dimensions in a disrupted airline route network. Moreover, adding more<br>proficiency, in form of computerized information systems, to existing decision<br>support systems in the airline operations control center (AOCC) to address<br>fleeting solution validity significantly increases the complexity of the monolithic<br>and centralized design approach for airline disruption management. To this end,<br>there is a need to substantially augment the decision-making capacity of human<br>specialists in the AOCC with modular and decentralized decision support<br>platforms that allow real-time generation and tracking of disruption resolutions<br>with minimal complexity during irregular operations and schedule recovery.</div>

<!-- Middle column headings -->
<div class="t h" style="left:561.3px;top:149.5px;">Intelligent multi-agent system for ADM</div>
<div class="t h" style="left:532px;top:346px;">Flowchart for an intelligent agent or domain</div>
<div class="t h" style="left:532px;top:370px;">manager</div>
<div class="t h" style="left:532px;top:772px;">Smart contract routine for decentralized AI for</div>
<div class="t h" style="left:532px;top:796px;">ADM</div>

<!-- Right column -->
<div class="t h" style="left:1072px;top:147px;">Sample recovery plan for a few disrupted</div>
<div class="t h" style="left:1072px;top:171px;">flights</div>
<div class="bd" style="left:1072px;top:209.8px;font-size:10.8px;line-height:14.8px;">Recovery plan (r) defined as consensus order of non-negative integers that represent<br>sequence in which flight disruption resolutions are enacted for five separate domain<br>managers or functional roles.</div>
<div class="t" style="left:1201.6px;top:259.6px;font-size:12.8px;color:#595959;">r = {p |&nbsp; p is not negative}</div>

<div class="t h" style="left:1072px;top:490.5px;">Time to reach first consensus</div>

<div class="t h" style="left:1072px;top:778.2px;">Conclusion</div>
<div class="bd" style="left:1071.4px;top:821.2px;line-height:16.65px;">1.<br><br><br>2.</div>
<div class="bd" style="left:1092.2px;top:821.2px;line-height:16.65px;">Trust in human-AI collaboration for ADM is contingent upon expedient<br>verification and validation of <i>rules-of-thumb</i> that define input criteria for<br>decentralized AI<br>Decentralized AI platform attains simultaneously-integrated recovery within<br>minutes of invoking the intelligent multi-agent system framework</div>

<div class="t h" style="left:1076.5px;top:930px;">Paper</div>
<div class="bd" style="left:1071.4px;top:965px;font-size:10.85px;line-height:15.4px;">Ogunsina, K., and DeLaurentis, D., “Enabling Integration and Interaction for<br>Decentralized Artificial Intelligence in Airline Disruption Management”,<br>Engineering Applications of Artificial Intelligence, vol. 109, Mar. 2022, p.<br>104600. https://doi.org/10.1016/j.engappai.2021.104600</div>
</div></body></html>
